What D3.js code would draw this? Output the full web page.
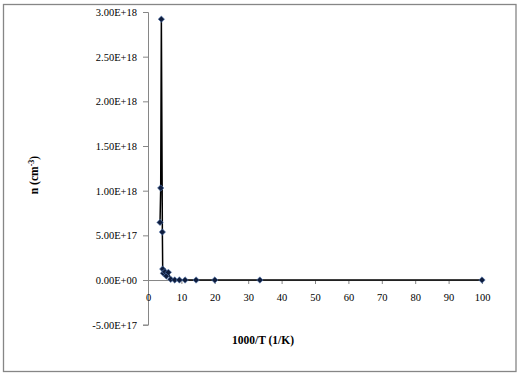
<!DOCTYPE html>
<html>
<head>
<meta charset="utf-8">
<script src="https://cdn.jsdelivr.net/npm/d3@7"></script>
<style>
  body { margin: 0; background: #fff; }
</style>
</head>
<body>
<svg id="chart" width="527" height="377"></svg>
<script>
// 1000/T values (1/K) and carrier concentration n (cm^-3), in plotted order
var invT = [3.6, 3.8, 4.0, 4.3, 4.4, 4.6, 5.1, 5.5, 6.1, 6.8, 8.0, 9.4, 11.1, 14.4, 20, 33.5, 100];
var nConc = [6.45e17, 1.03e18, 2.92e18, 5.37e17, 1.23e17, 7.5e16, 9.3e16, 4.5e16, 8.6e16, 8e15, 1e15, 5e14, 2e14, 1e14, 5e13, 1e13, 1e12];
var xTicks = [0, 10, 20, 30, 40, 50, 60, 70, 80, 90, 100];
var yTicks = [-5e17, 0, 5e17, 1e18, 1.5e18, 2e18, 2.5e18, 3e18];
var xTitle = "1000/T (1/K)";

var FONT = "'Liberation Serif', 'Times New Roman', 'DejaVu Serif', serif";
var svg = d3.select("#chart").style("font-family", FONT);
var margin = {top: 12, left: 148, right: 482, bottom: 324.7};

var x = d3.scaleLinear().domain([0, 100]).range([margin.left, margin.right]);
var y = d3.scaleLinear().domain([-5e17, 3e18]).range([margin.bottom, margin.top]);

// outer frame
svg.append("rect")
    .attr("x", 3.5).attr("y", 4.5)
    .attr("width", 512.5).attr("height", 367)
    .attr("fill", "none").attr("stroke", "#868686").attr("stroke-width", 1.3);

var fmt = function(v) {
    var s = v.toExponential(2).toUpperCase();
    var parts = s.split("E");
    var e = parseInt(parts[1]);
    return parts[0] + "E" + (e < 0 ? "-" : "+") + String(Math.abs(e)).padStart(2, "0");
};

// y axis
var yAxis = svg.append("g")
    .attr("transform", "translate(" + x(0) + ",0)")
    .call(d3.axisLeft(y).tickValues(yTicks).tickFormat(fmt).tickSize(5).tickPadding(6));
yAxis.select(".domain").attr("stroke", "#868686");
yAxis.selectAll(".tick line").attr("stroke", "#868686");
yAxis.selectAll("text").style("font-family", FONT).attr("font-size", "10.5px").attr("fill", "#000");

// x axis at y = 0
var xAxis = svg.append("g")
    .attr("transform", "translate(0," + y(0) + ")")
    .call(d3.axisBottom(x).tickValues(xTicks).tickSize(4).tickSizeOuter(0).tickPadding(10));
xAxis.select(".domain").attr("stroke", "#868686");
xAxis.selectAll(".tick line").attr("stroke", "#868686");
xAxis.selectAll("text").style("font-family", FONT).attr("font-size", "10.5px").attr("fill", "#000");

// data line
var pts = invT.map(function(d, i) { return [d, nConc[i]]; });
var line = d3.line().x(function(d) { return x(d[0]); }).y(function(d) { return y(d[1]); });
svg.append("path")
    .datum(pts)
    .attr("d", line)
    .attr("fill", "none")
    .attr("stroke", "#000")
    .attr("stroke-width", 1.5);

// diamond markers
svg.selectAll(".pt")
    .data(pts)
    .enter().append("path")
    .attr("class", "pt")
    .attr("d", d3.symbol().type(d3.symbolDiamond2).size(26))
    .attr("transform", function(d) { return "translate(" + x(d[0]) + "," + y(d[1]) + ")"; })
    .attr("fill", "#0f1d3d")
    .attr("stroke", "#5b7fb8")
    .attr("stroke-width", 0.6);

// axis titles
svg.append("text")
    .style("font-family", FONT)
    .attr("x", 263).attr("y", 344)
    .attr("text-anchor", "middle")
    .attr("font-size", "11.5px").attr("font-weight", "bold")
    .text(xTitle);

var yt = svg.append("text")
    .style("font-family", FONT)
    .attr("transform", "translate(38,175) rotate(-90)")
    .attr("text-anchor", "middle")
    .attr("font-size", "11.5px").attr("font-weight", "bold");
yt.append("tspan").text("n (cm");
yt.append("tspan").attr("font-size", "8px").attr("dy", -4).text("-3");
yt.append("tspan").attr("dy", 4).text(")");
</script>
</body>
</html>
